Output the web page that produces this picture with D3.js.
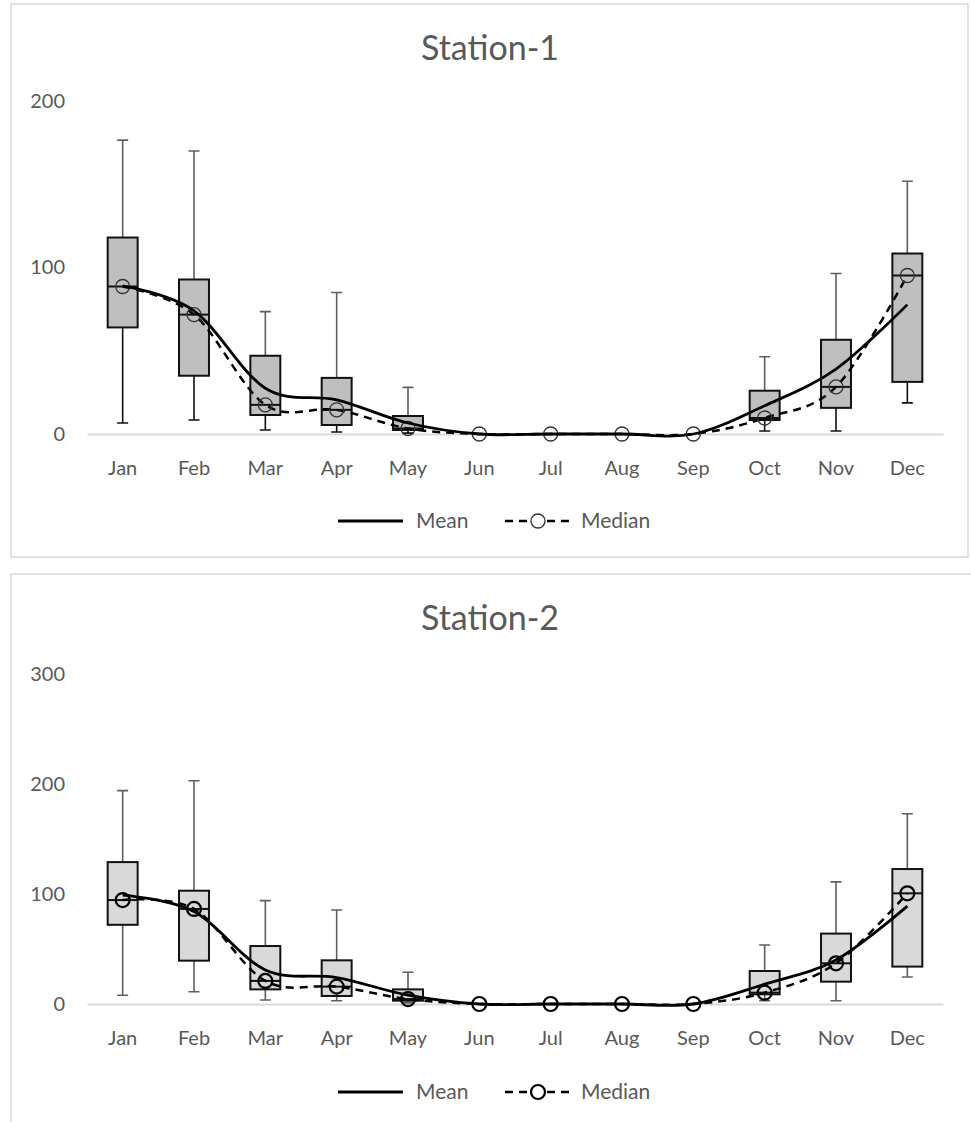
<!DOCTYPE html>
<html>
<head>
<meta charset="utf-8">
<script src="https://cdn.jsdelivr.net/npm/d3@7"></script>
<style>
  body { margin: 0; background: #fff; }
  svg text { font-family: Lato, "Open Sans", sans-serif; fill: #595959; }
</style>
</head>
<body>
<div id="chart"></div>
<script>
const months = ["Jan", "Feb", "Mar", "Apr", "May", "Jun", "Jul", "Aug", "Sep", "Oct", "Nov", "Dec"];

// Station-1 (box: min / q1 / median / q3 / max, plus mean line)
const s1Min    = [6.6, 8.4, 2.4, 1.2, 0.5, 0, 0, 0, 0, 1.8, 1.8, 18.7];
const s1Q1     = [64, 35, 11.4, 5.4, 2.4, 0, 0, 0, 0, 8.4, 15.7, 31.3];
const s1Median = [88.6, 71.7, 17.5, 14.5, 3.3, 0, 0, 0, 0, 9.6, 28.3, 95.2];
const s1Q3     = [118, 92.8, 47, 33.7, 10.8, 0, 0, 0, 0, 26, 56.6, 108.4];
const s1Max    = [176.5, 170, 73.5, 85, 28, 0, 0, 0, 0, 46.4, 96.4, 151.8];
const s1Mean   = [89, 74, 27.5, 20.5, 6.6, 0, 0, 0, 0, 17, 39, 77.7];
const s1Ticks  = [0, 100, 200];

// Station-2
const s2Min    = [8, 11.2, 3.6, 3, 1, 0, 0, 0, 0, 3, 3, 24.5];
const s2Q1     = [72, 39.4, 13.3, 7.3, 3, 0, 0, 0, 0, 8.8, 20.3, 34];
const s2Median = [94.5, 86.4, 21, 15.8, 4.5, 0, 0, 0, 0, 10.3, 37, 100.6];
const s2Q3     = [129, 103, 52.7, 39.7, 13.3, 0, 0, 0, 0, 30, 64, 122.7];
const s2Max    = [194, 203, 94, 85.5, 28.8, 0, 0, 0, 0, 53.6, 111, 173];
const s2Mean   = [99, 84, 31, 24, 8, 0, 0, 0, 0, 18, 40, 89];
const s2Ticks  = [0, 100, 200, 300];

const width = 971;
const height = 1122;

const svg = d3.select("#chart")
    .append("svg")
    .attr("width", width)
    .attr("height", height);

function drawStation(opt) {
    const g = svg.append("g").attr("transform", `translate(0,${opt.top})`);

    // chart frame
    g.append("rect")
        .attr("x", 11)
        .attr("y", 0)
        .attr("width", opt.frameW)
        .attr("height", opt.frameH)
        .attr("fill", "none")
        .attr("stroke", "#d9d9d9")
        .attr("stroke-width", 1.5);

    const x = d3.scaleBand()
        .domain(months)
        .range([87, 943])
        .paddingInner(0.58)
        .paddingOuter(0.29);
    const cx = (m) => x(m) + x.bandwidth() / 2;

    const y = d3.scaleLinear()
        .domain([0, d3.max(opt.ticks)])
        .range([opt.zeroY, opt.topY]);

    g.append("text")
        .attr("x", 490)
        .attr("y", 44)
        .attr("dy", "0.35em")
        .attr("text-anchor", "middle")
        .style("font-size", "34px")
        .text(opt.title);

    // y axis labels only
    const yAxis = g.append("g")
        .attr("transform", "translate(87,0)")
        .call(d3.axisLeft(y).tickValues(opt.ticks).tickSize(0).tickPadding(22));
    yAxis.select(".domain").remove();
    yAxis.selectAll("text").style("font-size", "20px").attr("fill", "#595959");

    // x axis with baseline
    const xAxis = g.append("g")
        .attr("transform", `translate(0,${opt.zeroY})`)
        .call(d3.axisBottom(x).tickSize(0).tickSizeOuter(0).tickPadding(27));
    xAxis.select(".domain").attr("stroke", "#d9d9d9").attr("stroke-width", 2);
    xAxis.selectAll("text").style("font-size", "20px").attr("fill", "#595959");

    const rows = months.map((m, i) => ({
        m: m,
        min: opt.min[i], q1: opt.q1[i], med: opt.median[i],
        q3: opt.q3[i], max: opt.max[i], mean: opt.mean[i]
    }));
    const boxRows = rows.filter((d) => d.max > 0);
    const cap = 5.5;

    // whiskers
    const wk = g.append("g");
    wk.selectAll(".up")
        .data(boxRows)
        .enter()
        .append("path")
        .attr("d", (d) => `M${cx(d.m)},${y(d.q3)}V${y(d.max)}M${cx(d.m) - cap},${y(d.max)}H${cx(d.m) + cap}`)
        .attr("fill", "none")
        .attr("stroke", "#5f5f5f")
        .attr("stroke-width", 1.6);
    wk.selectAll(".low")
        .data(boxRows)
        .enter()
        .append("path")
        .attr("d", (d) => `M${cx(d.m)},${y(d.q1)}V${y(d.min)}M${cx(d.m) - cap},${y(d.min)}H${cx(d.m) + cap}`)
        .attr("fill", "none")
        .attr("stroke", opt.lowColor)
        .attr("stroke-width", 1.6);

    // boxes
    g.selectAll(".box")
        .data(boxRows)
        .enter()
        .append("rect")
        .attr("x", (d) => x(d.m))
        .attr("width", x.bandwidth())
        .attr("y", (d) => y(d.q3))
        .attr("height", (d) => y(d.q1) - y(d.q3))
        .attr("fill", opt.boxFill)
        .attr("stroke", "#111")
        .attr("stroke-width", 2);

    g.selectAll(".medline")
        .data(boxRows)
        .enter()
        .append("line")
        .attr("x1", (d) => x(d.m))
        .attr("x2", (d) => x(d.m) + x.bandwidth())
        .attr("y1", (d) => y(d.med))
        .attr("y2", (d) => y(d.med))
        .attr("stroke", "#111")
        .attr("stroke-width", 2);

    const smooth = d3.curveCardinal.tension(0);

    // median line + markers
    g.append("path")
        .datum(rows)
        .attr("d", d3.line().x((d) => cx(d.m)).y((d) => y(d.med)).curve(smooth))
        .attr("fill", "none")
        .attr("stroke", "#000")
        .attr("stroke-width", 2.5)
        .attr("stroke-dasharray", "8,6");

    g.selectAll(".mk")
        .data(rows)
        .enter()
        .append("circle")
        .attr("cx", (d) => cx(d.m))
        .attr("cy", (d) => y(d.med))
        .attr("r", 7)
        .attr("fill", "none")
        .attr("stroke", opt.markerColor)
        .attr("stroke-width", opt.markerW);

    // mean line
    g.append("path")
        .datum(rows)
        .attr("d", d3.line().x((d) => cx(d.m)).y((d) => y(d.mean)).curve(smooth))
        .attr("fill", "none")
        .attr("stroke", "#000")
        .attr("stroke-width", 2.8);

    // legend
    const ly = opt.legendY;
    g.append("line")
        .attr("x1", 338).attr("x2", 403)
        .attr("y1", ly).attr("y2", ly)
        .attr("stroke", "#000")
        .attr("stroke-width", 2.8);
    g.append("text")
        .attr("x", 416).attr("y", ly)
        .attr("dy", "0.35em")
        .style("font-size", "21px")
        .text("Mean");
    g.append("line")
        .attr("x1", 505).attr("x2", 571)
        .attr("y1", ly).attr("y2", ly)
        .attr("stroke", "#000")
        .attr("stroke-width", 2.5)
        .attr("stroke-dasharray", "8,6");
    g.append("circle")
        .attr("cx", 538).attr("cy", ly)
        .attr("r", 7)
        .attr("fill", "#fff")
        .attr("stroke", opt.markerColor)
        .attr("stroke-width", opt.markerW);
    g.append("text")
        .attr("x", 581).attr("y", ly)
        .attr("dy", "0.35em")
        .style("font-size", "21px")
        .text("Median");
}

drawStation({
    title: "Station-1",
    top: 4,
    frameW: 957, frameH: 553,
    zeroY: 430, topY: 97,
    ticks: s1Ticks,
    min: s1Min, q1: s1Q1, median: s1Median, q3: s1Q3, max: s1Max, mean: s1Mean,
    boxFill: "#bfbfbf",
    lowColor: "#111",
    markerColor: "#333",
    markerW: 1.3,
    legendY: 517
});

drawStation({
    title: "Station-2",
    top: 574,
    frameW: 980, frameH: 600,
    zeroY: 430, topY: 100,
    ticks: s2Ticks,
    min: s2Min, q1: s2Q1, median: s2Median, q3: s2Q3, max: s2Max, mean: s2Mean,
    boxFill: "#d9d9d9",
    lowColor: "#5f5f5f",
    markerColor: "#000",
    markerW: 2.2,
    legendY: 518
});
</script>
</body>
</html>
